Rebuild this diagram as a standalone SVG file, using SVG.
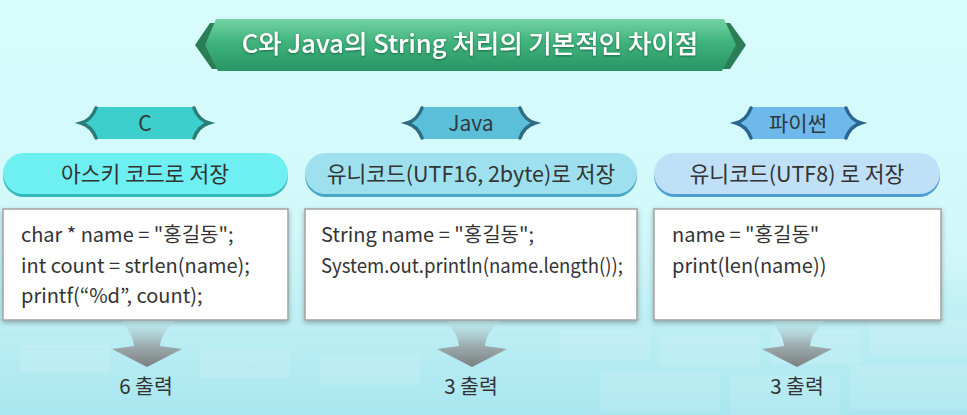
<svg xmlns="http://www.w3.org/2000/svg" width="967" height="415" viewBox="0 0 967 415">
  <defs>
    <linearGradient id="bg" x1="0" y1="0" x2="0" y2="1">
      <stop offset="0" stop-color="#d8fcfc"/>
      <stop offset="0.55" stop-color="#d2f8fa"/>
      <stop offset="1" stop-color="#a9e6ef"/>
    </linearGradient>
    <linearGradient id="bannerFill" x1="0" y1="0" x2="0" y2="1">
      <stop offset="0" stop-color="#74d3a4"/>
      <stop offset="0.45" stop-color="#3fb37b"/>
      <stop offset="1" stop-color="#2a9565"/>
    </linearGradient>
    <linearGradient id="arrowFill" x1="0" y1="0" x2="0" y2="1">
      <stop offset="0" stop-color="#b9dfe3" stop-opacity="0.3"/>
      <stop offset="0.5" stop-color="#9fb0b3"/>
      <stop offset="1" stop-color="#7d7f80"/>
    </linearGradient>
    <filter id="shadow" x="-10%" y="-10%" width="120%" height="130%">
      <feDropShadow dx="0" dy="2" stdDeviation="2.5" flood-color="#000" flood-opacity="0.3"/>
    </filter>
    <filter id="textShadow" x="-5%" y="-20%" width="110%" height="150%">
      <feDropShadow dx="0" dy="1" stdDeviation="0.8" flood-color="#0b4d30" flood-opacity="0.7"/>
    </filter>
  </defs>
  <style>
    text { font-family: "Noto Sans CJK KR", "Noto Sans", sans-serif; fill: #333; }
    .title { font-size: 25.5px; font-weight: 500; fill: #fff; }
    .tag { font-size: 21px; fill: #2f3a3c; }
    .pill { font-size: 21.5px; }
    .code { font-size: 20px; }
    .out { font-size: 20.5px; }
    .box { fill: #fff; stroke: #a2a2a2; stroke-width: 1.5; }
    .brace { fill: none; stroke-width: 3.5; stroke-linecap: round; }
  </style>

  <!-- background -->
  <rect x="0" y="0" width="967" height="415" fill="url(#bg)"/>
  <g fill="#ffffff" opacity="0.1">
    <rect x="560" y="330" width="90" height="30" rx="3"/>
    <rect x="660" y="335" width="100" height="32" rx="3"/>
    <rect x="770" y="330" width="90" height="34" rx="3"/>
    <rect x="870" y="320" width="97" height="36" rx="3"/>
    <rect x="600" y="372" width="120" height="40" rx="3"/>
    <rect x="730" y="375" width="110" height="40" rx="3"/>
    <rect x="850" y="365" width="117" height="45" rx="3"/>
    <rect x="900" y="240" width="67" height="40" rx="3"/>
    <rect x="20" y="345" width="90" height="28" rx="3"/>
    <rect x="200" y="350" width="90" height="28" rx="3"/>
    <rect x="320" y="355" width="100" height="30" rx="3"/>
  </g>

  <!-- title banner -->
  <g id="title">
    <polygon points="195,45 210,23 730,23 746,45 730,69 212,69" fill="#2b7d58"/>
    <polygon points="216,19 724,19 736,45 722,71 218,71 205,45" fill="url(#bannerFill)"/>
    <text class="title" x="470" y="53" text-anchor="middle" filter="url(#textShadow)">C와 Java의 String 처리의 기본적인 차이점</text>
  </g>

  <!-- column: C -->
  <g id="tag-c">
    <path d="M95,107 H195 C198,116 203,121 210,123 C203,125 198,130 195,139 H95 C92,130 87,125 80,123 C87,121 92,116 95,107 Z" fill="#3ccfcc"/>
    <path class="brace" d="M96,108 C93,116 88,121 81,123 C88,125 93,130 96,138" stroke="#2b7c76"/>
    <path class="brace" d="M194,108 C197,116 202,121 209,123 C202,125 197,130 194,138" stroke="#2b7c76"/>
    <text class="tag" x="145" y="131" text-anchor="middle">C</text>
  </g>
  <g id="pill-c">
    <rect x="3" y="155" width="285" height="42" rx="21" fill="#35b8bc"/>
    <rect x="3" y="153" width="285" height="41" rx="20.5" fill="#6eeff1"/>
    <text class="pill" x="145" y="182" text-anchor="middle">아스키 코드로 저장</text>
  </g>
  <g id="code-c">
    <rect class="box" x="3" y="209" width="285" height="111" filter="url(#shadow)"/>
    <text class="code" x="21" y="242">char * name = "홍길동";</text>
    <text class="code" x="21" y="273">int count = strlen(name);</text>
    <text class="code" x="21" y="303">printf(“%d”, count);</text>
  </g>
  <g id="out-c">
    <text class="out" x="146" y="394" text-anchor="middle">6 출력</text>
  </g>

  <!-- column: Java -->
  <g id="tag-java">
    <path d="M421,107 H521 C524,116 529,121 536,123 C529,125 524,130 521,139 H421 C418,130 413,125 406,123 C413,121 418,116 421,107 Z" fill="#5cbfd9"/>
    <path class="brace" d="M422,108 C419,116 414,121 407,123 C414,125 419,130 422,138" stroke="#2c6d84"/>
    <path class="brace" d="M520,108 C523,116 528,121 535,123 C528,125 523,130 520,138" stroke="#2c6d84"/>
    <text class="tag" x="471" y="131" text-anchor="middle">Java</text>
  </g>
  <g id="pill-java">
    <rect x="305" y="155" width="332" height="42" rx="21" fill="#49a6c4"/>
    <rect x="305" y="153" width="332" height="41" rx="20.5" fill="#9ee0ee"/>
    <text class="pill" x="471" y="182" text-anchor="middle">유니코드(UTF16, 2byte)로 저장</text>
  </g>
  <g id="code-java">
    <rect class="box" x="305" y="209" width="332" height="111" filter="url(#shadow)"/>
    <text class="code" x="321" y="242">String name = "홍길동";</text>
    <text class="code" x="321" y="273" textLength="302" lengthAdjust="spacingAndGlyphs">System.out.println(name.length());</text>
  </g>
  <g id="out-java">
    <text class="out" x="471" y="394" text-anchor="middle">3 출력</text>
  </g>

  <!-- column: Python -->
  <g id="tag-python">
    <path d="M750,107 H847 C850,116 855,121 862,123 C855,125 850,130 847,139 H750 C747,130 742,125 735,123 C742,121 747,116 750,107 Z" fill="#6cb9ea"/>
    <path class="brace" d="M751,108 C748,116 743,121 736,123 C743,125 748,130 751,138" stroke="#2b6591"/>
    <path class="brace" d="M846,108 C849,116 854,121 861,123 C854,125 849,130 846,138" stroke="#2b6591"/>
    <text class="tag" x="798" y="131" text-anchor="middle">파이썬</text>
  </g>
  <g id="pill-python">
    <rect x="654" y="155" width="286" height="42" rx="21" fill="#4b9dd6"/>
    <rect x="654" y="153" width="286" height="41" rx="20.5" fill="#bfe0f7"/>
    <text class="pill" x="797" y="182" text-anchor="middle">유니코드(UTF8) 로 저장</text>
  </g>
  <g id="code-python">
    <rect class="box" x="654" y="209" width="287" height="111" filter="url(#shadow)"/>
    <text class="code" x="672" y="242">name = "홍길동"</text>
    <text class="code" x="672" y="273">print(len(name))</text>
  </g>
  <g id="out-python">
    <text class="out" x="797" y="394" text-anchor="middle">3 출력</text>
  </g>

  <!-- connectors: funnel arrows from code boxes to outputs -->
  <g id="connectors" fill="url(#arrowFill)">
    <path d="M122,321 C128,330 133,336 134,346 L112,349 L147,367 L182,349 L160,346 C161,336 166,330 174,321 Z"/>
    <path d="M447,321 C453,330 458,336 459,346 L437,349 L472,367 L507,349 L485,346 C486,336 491,330 499,321 Z"/>
    <path d="M772,321 C778,330 783,336 784,346 L762,349 L797,367 L832,349 L810,346 C811,336 816,330 824,321 Z"/>
  </g>
</svg>
